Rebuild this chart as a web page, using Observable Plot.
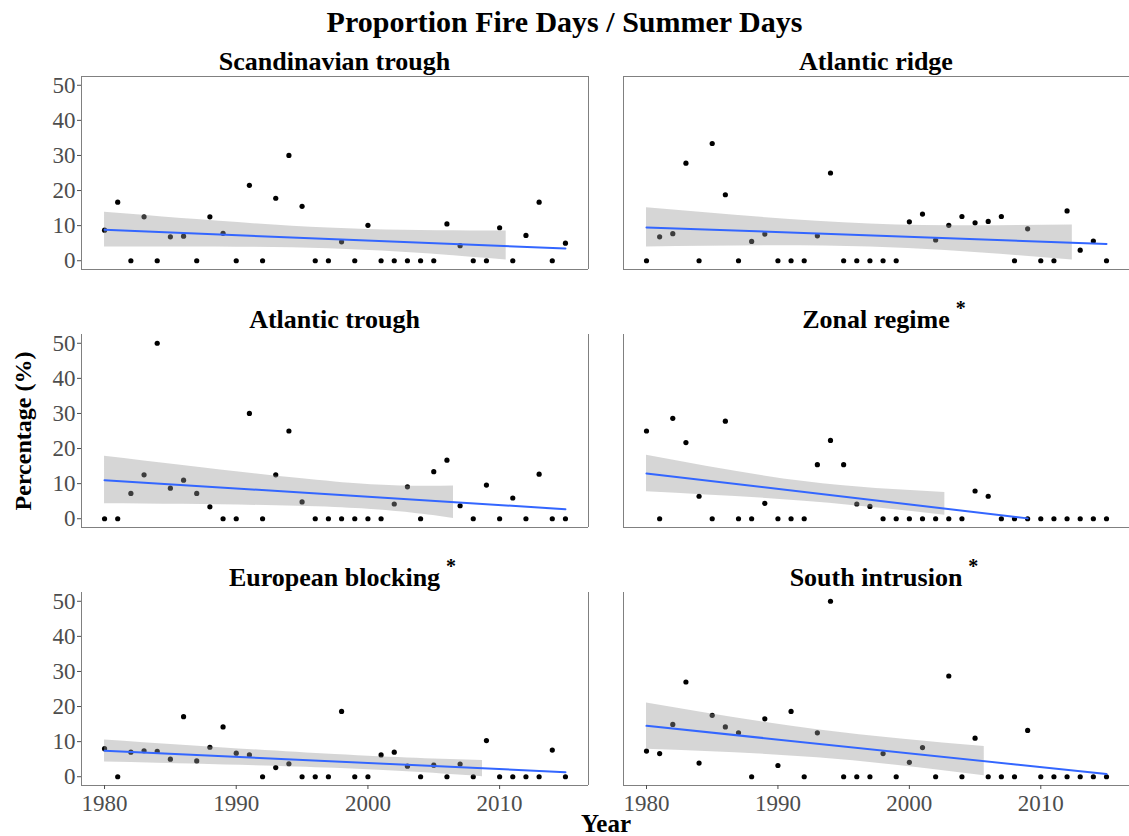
<!DOCTYPE html>
<html>
<head>
<meta charset="utf-8">
<script src="https://cdn.jsdelivr.net/npm/d3@7"></script>
<script src="https://cdn.jsdelivr.net/npm/@observablehq/plot@0.6"></script>
<style>
  body { margin: 0; background: #fff; }
  #chart { position: relative; width: 1129px; height: 836px; overflow: hidden;
           font-family: "Liberation Serif", "Times New Roman", serif; color: #000; }
  .plot { position: absolute; }
  .title { position: absolute; left: 0; width: 1129px; text-align: center; top: 7px;
           font-size: 30px; font-weight: bold; line-height: 1; }
  .ptitle { position: absolute; font-size: 26px; font-weight: bold; line-height: 1;
            transform: translateX(-50%); white-space: nowrap; }
  .ptitle .inner { position: relative; }
  .ptitle .star { position: absolute; left: calc(100% + 6px); top: -7px; font-size: 20px; }
  .ylab { position: absolute; left: 23px; top: 431px; font-size: 24px; font-weight: bold;
          line-height: 1; white-space: nowrap; transform: translate(-50%, -50%) rotate(-90deg); }
  .xlab { position: absolute; left: 606px; top: 811px; font-size: 25px; font-weight: bold;
          line-height: 1; transform: translateX(-50%); }
</style>
</head>
<body>
<div id="chart"></div>
<script>
// ---- data ----
const years = [1980,1981,1982,1983,1984,1985,1986,1987,1988,1989,
               1990,1991,1992,1993,1994,1995,1996,1997,1998,1999,
               2000,2001,2002,2003,2004,2005,2006,2007,2008,2009,
               2010,2011,2012,2013,2014,2015];

const scandinavianTrough = [8.7,16.7,0,12.5,0,6.8,7.0,0,12.5,7.8,
                            0,21.5,0,17.8,30.0,15.5,0,0,5.4,0,
                            10.1,0,0,0,0,0,10.5,4.3,0,0,
                            9.4,0,7.2,16.7,0,5.0];
const atlanticRidge = [0,6.8,7.7,27.8,0,33.4,18.8,0,5.5,7.6,
                       0,0,0,7.1,25.0,0,0,0,0,0,
                       11.1,13.3,5.9,10.1,12.6,10.8,11.2,12.6,0,9.1,
                       0,0,14.2,3.0,5.6,0];
const atlanticTrough = [0,0,7.2,12.5,50.0,8.7,11.0,7.2,3.4,0,
                        0,30.0,0,12.5,25.0,4.8,0,0,0,0,
                        0,0,4.2,9.1,0,13.4,16.7,3.7,0,9.6,
                        0,5.9,0,12.7,0,0];
const zonalRegime = [25.0,0,28.6,21.7,6.4,0,27.8,0,0,4.4,
                     0,0,0,15.4,22.3,15.4,4.2,3.5,0,0,
                     0,0,0,0,0,7.9,6.4,0,0,0,
                     0,0,0,0,0,0];
const europeanBlocking = [8.0,0,7.0,7.4,7.2,5.0,17.1,4.5,8.4,14.2,
                          6.7,6.2,0,2.6,3.7,0,0,0,18.6,0,
                          0,6.2,7.0,3.0,0,3.3,0,3.6,0,10.3,
                          0,0,0,0,7.6,0];
const southIntrusion = [7.3,6.6,14.9,27.0,3.9,17.5,14.2,12.5,0,16.5,
                        3.2,18.6,0,12.5,50.0,0,0,0,6.6,0,
                        4.1,8.3,0,28.7,0,11.0,0,0,0,13.2,
                        0,0,0,0,0,0];

const panelNames = ["Scandinavian trough", "Atlantic ridge", "Atlantic trough",
                    "Zonal regime", "European blocking", "South intrusion"];
const significant = [false, false, false, true, true, true];

// fitted trend line (start / end) as drawn
const trendStartYear = [1980, 1980, 1980, 1980, 1980, 1980];
const trendEndYear   = [2015, 2015, 2015, 2009, 2015, 2015];
const trendStart = [8.8, 9.5, 11.0, 12.9, 7.4, 14.5];
const trendEnd   = [3.5, 4.8, 2.7, 0.1, 1.3, 0.8];

// confidence band as drawn (truncated where it leaves the 0..50 range)
const bandYears = [[1980, 1997, 2010.5], [1980, 1997, 2012.4], [1980, 1997.5, 2006.5],
                   [1980, 1992, 2002.7], [1980, 1997.5, 2008.7], [1980, 1993, 2005.7]];
const bandLow  = [[3.9, 3.4, 0.2], [3.9, 3.9, 0.2], [4.25, 3.2, 0.1],
                  [7.7, 5.0, 1.0], [4.2, 2.4, 0.0], [7.8, 5.4, 0.3]];
const bandHigh = [[13.8, 9.3, 8.5], [15.1, 10.5, 10.2], [17.8, 10.5, 9.3],
                  [18.1, 10.6, 7.5], [10.5, 6.3, 4.6], [21.0, 13.4, 8.6]];

const yTicks = [0, 10, 20, 30, 40, 50];
const xTicks = [1980, 1990, 2000, 2010];

// ---- layout ----
const series = [scandinavianTrough, atlanticRidge, atlanticTrough,
                zonalRegime, europeanBlocking, southIntrusion];
const xDom = [1978.25, 2016.75];
const yDom = [-2.5, 52.5];
const cols = [{left: 0, width: 600, ml: 81, mr: 12}, {left: 600, width: 529, ml: 23, mr: 0}];
const rowTop = [76, 334, 592];
const panelH = 193;
const titleTop = [49, 307, 565];
const frameColor = "#808080";

const chart = document.getElementById("chart");

const t = document.createElement("div");
t.className = "title";
t.textContent = "Proportion Fire Days / Summer Days";
chart.appendChild(t);

series.forEach((vals, i) => {
  const r = Math.floor(i / 2), c = i % 2;
  const col = cols[c];
  const mt = 4, mb = r === 2 ? 46 : 4;
  const pts = years.map((y, k) => ({year: y, value: vals[k]}));
  const band = bandYears[i].map((y, k) => ({year: y, low: bandLow[i][k], high: bandHigh[i][k]}));
  const trend = [{year: trendStartYear[i], value: trendStart[i]},
                 {year: trendEndYear[i], value: trendEnd[i]}];
  const marks = [
    Plot.dot(pts, {x: "year", y: "value", r: 2.6, fill: "#000"}),
    Plot.areaY(band, {x: "year", y1: "low", y2: "high", fill: "#999999", fillOpacity: 0.4, curve: "natural"}),
    Plot.line(trend, {x: "year", y: "value", stroke: "#3366FF", strokeWidth: 2}),
    Plot.ruleY([yDom[0]], {stroke: frameColor}),
    Plot.ruleX([xDom[0]], {stroke: frameColor})
  ];
  if (c === 0) marks.push(Plot.ruleX([xDom[1]], {stroke: frameColor}));
  if (r === 0) marks.push(Plot.ruleY([yDom[1]], {stroke: frameColor}));
  if (c === 0) marks.push(Plot.axisY({ticks: yTicks, tickSize: 4, tickPadding: 2, fontSize: 23, label: null}));
  if (r === 2) marks.push(Plot.axisX({ticks: xTicks, tickSize: 4, tickPadding: 5, fontSize: 23, label: null, tickFormat: d => String(d)}));

  const svg = Plot.plot({
    width: col.width,
    height: mt + panelH + mb,
    marginTop: mt, marginBottom: mb, marginLeft: col.ml, marginRight: col.mr,
    x: {domain: xDom, axis: null},
    y: {domain: yDom, axis: null},
    style: {fontFamily: "Liberation Serif, serif", fontSize: "23px", color: "#4d4d4d", background: "transparent", overflow: "visible"},
    marks
  });
  svg.classList.add("plot");
  svg.style.left = col.left + "px";
  svg.style.top = (rowTop[r] - mt) + "px";
  chart.appendChild(svg);

  const pt = document.createElement("div");
  pt.className = "ptitle";
  pt.style.left = (col.left + col.ml + (col.width - col.ml - col.mr) / 2) + "px";
  pt.style.top = titleTop[r] + "px";
  const inner = document.createElement("span");
  inner.className = "inner";
  inner.textContent = panelNames[i];
  if (significant[i]) {
    const s = document.createElement("span");
    s.className = "star";
    s.textContent = "*";
    inner.appendChild(s);
  }
  pt.appendChild(inner);
  chart.appendChild(pt);
});

const yl = document.createElement("div");
yl.className = "ylab";
yl.textContent = "Percentage (%)";
chart.appendChild(yl);

const xl = document.createElement("div");
xl.className = "xlab";
xl.textContent = "Year";
chart.appendChild(xl);
</script>
</body>
</html>
